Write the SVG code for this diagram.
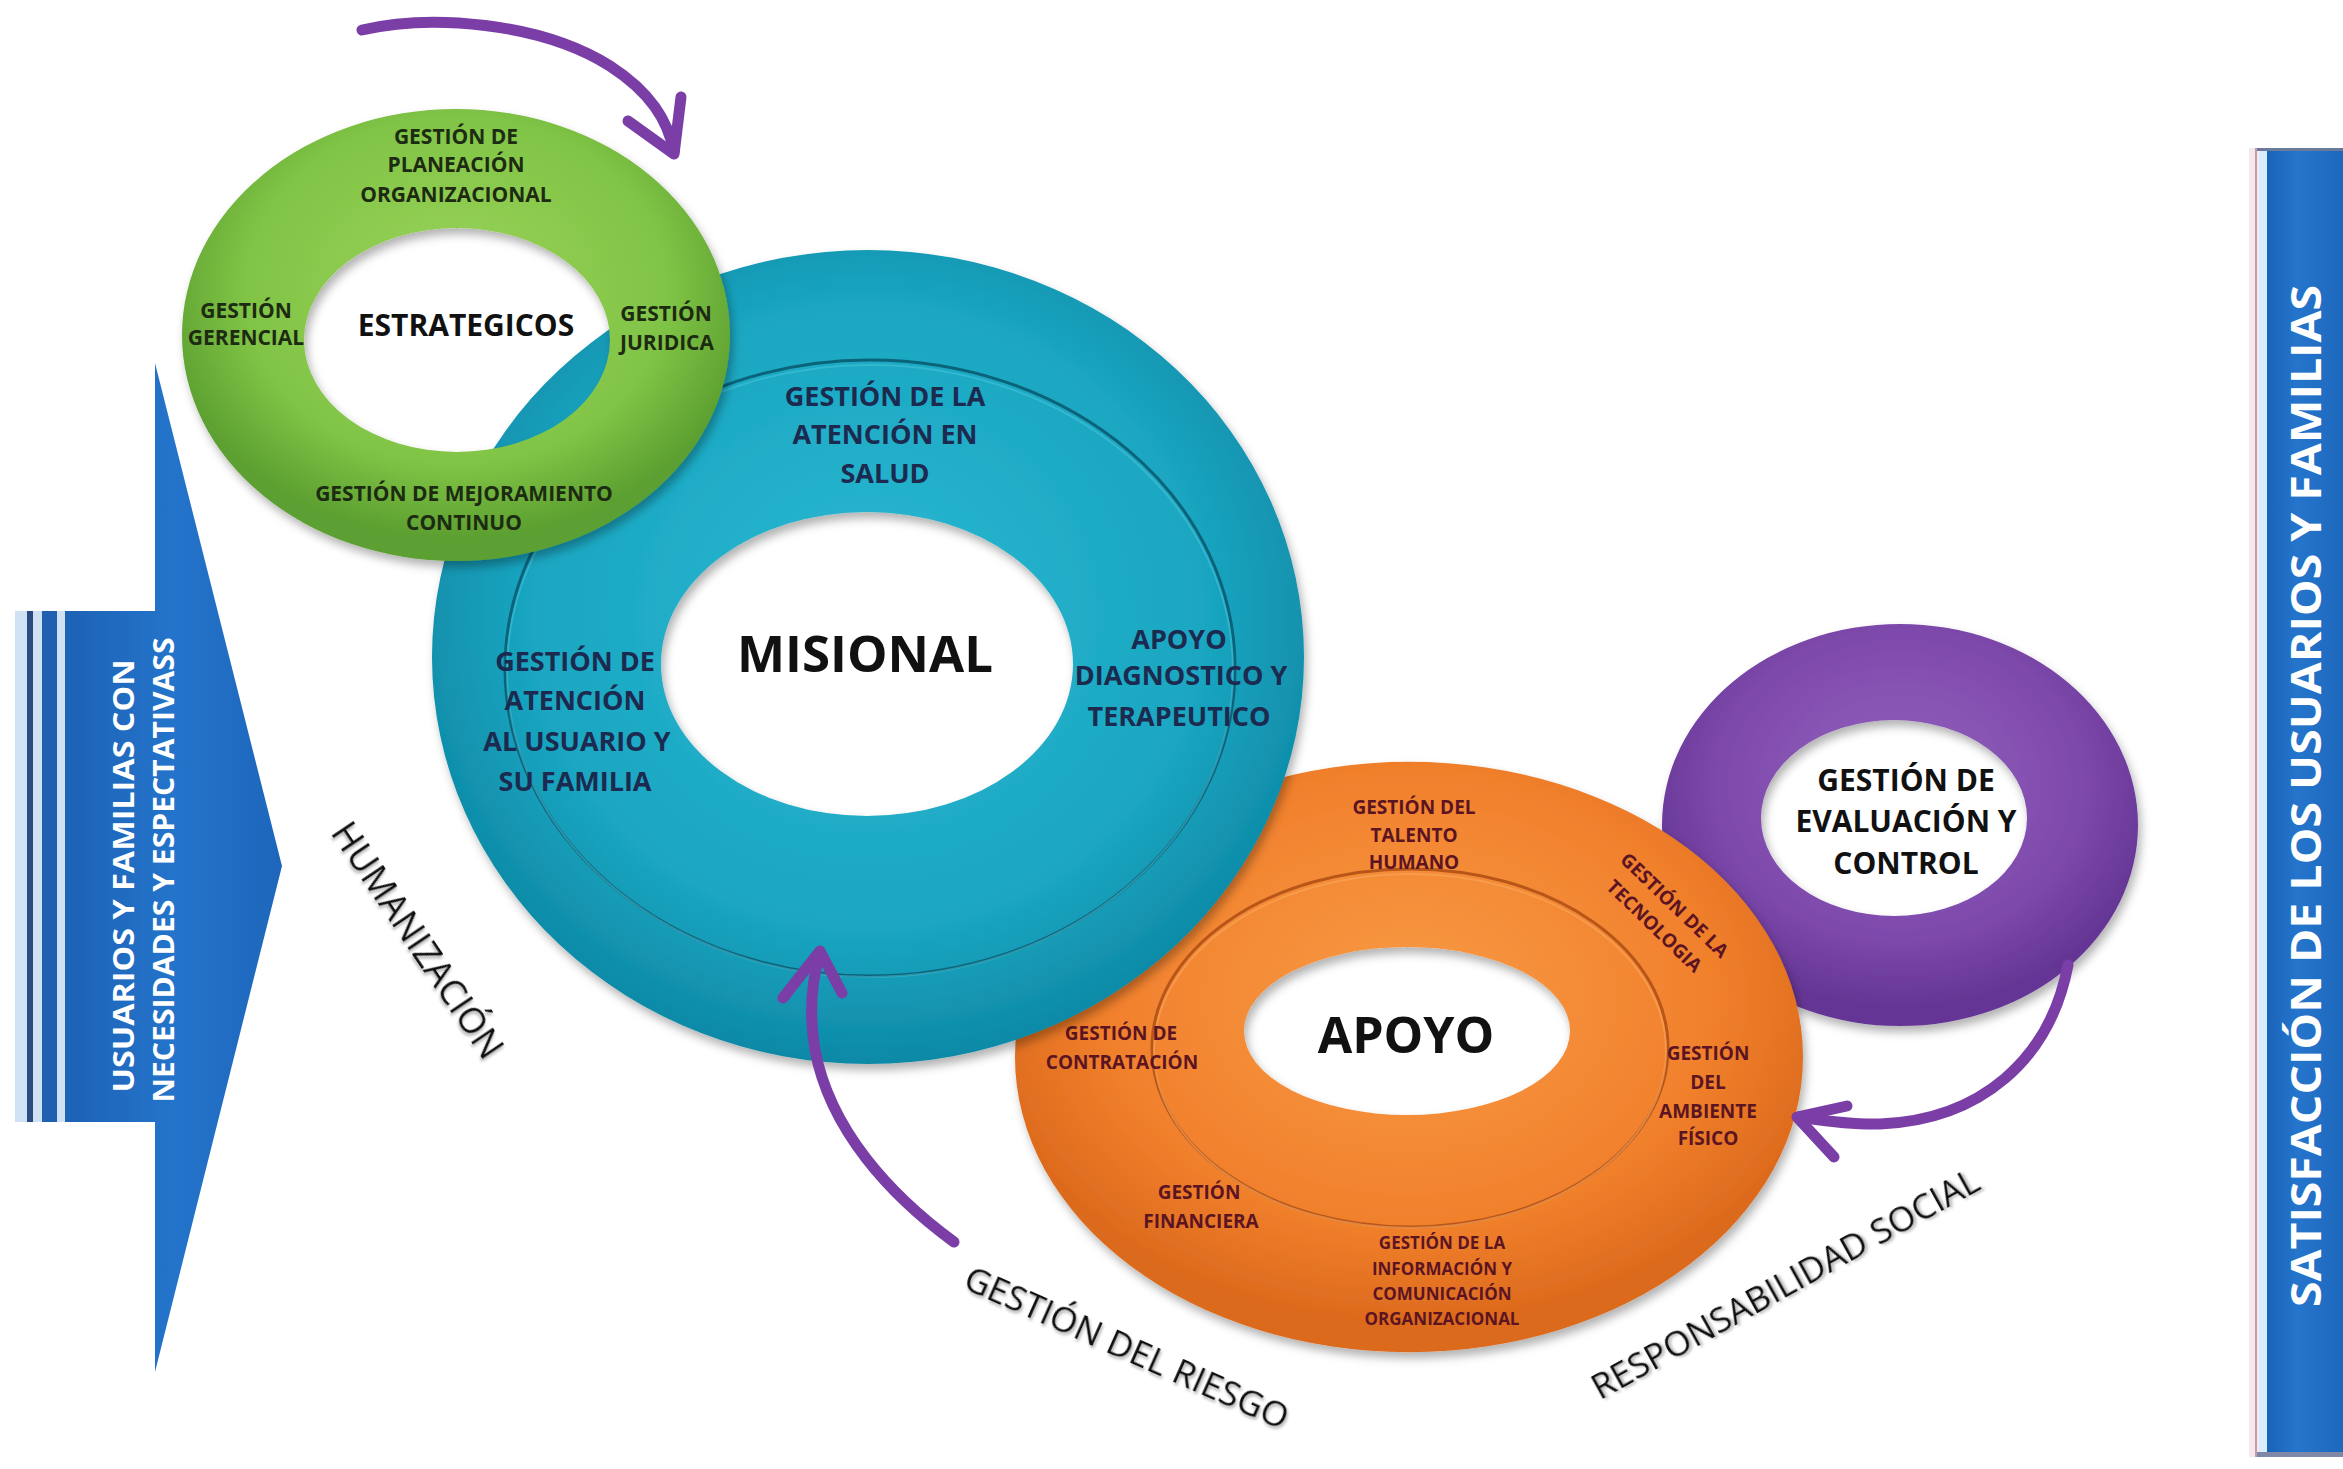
<svg xmlns="http://www.w3.org/2000/svg" width="2343" height="1469" viewBox="0 0 2343 1469">
<style>
.t{font-family:"Open Sans","Liberation Sans",sans-serif;font-weight:700;text-anchor:middle}
.g{fill:#1d2b12;font-size:21px}
.tl{fill:#1c2a4f;font-size:27px}
.o{fill:#5c1422;font-size:19px}
.os{fill:#5c1422;font-size:17px}
.p{fill:#111;font-size:30px}
.w{fill:#fff}
.lbl{font-family:"Open Sans","Liberation Sans",sans-serif;font-weight:400;fill:#111;text-anchor:middle;filter:url(#ts)}
.arr{fill:none;stroke:#7a3ea6;stroke-width:11;stroke-linecap:round;stroke-linejoin:round}
.div{fill:none;stroke-width:3}
</style>
<defs>
<filter id="sh" x="-10%" y="-10%" width="125%" height="125%"><feDropShadow dx="3" dy="6" stdDeviation="5" flood-color="#000" flood-opacity="0.3"/></filter>
<filter id="ts" x="-10%" y="-30%" width="120%" height="160%"><feDropShadow dx="2" dy="2" stdDeviation="1.5" flood-color="#777" flood-opacity="0.6"/></filter>
<radialGradient id="gTeal" cx="0.5" cy="0.45" r="0.55"><stop offset="0" stop-color="#2bb8d2"/><stop offset="0.7" stop-color="#1aa6c1"/><stop offset="1" stop-color="#0e89a6"/></radialGradient>
<radialGradient id="gGreen" cx="0.5" cy="0.4" r="0.55"><stop offset="0" stop-color="#9bd35a"/><stop offset="0.7" stop-color="#80c446"/><stop offset="1" stop-color="#5c9f30"/></radialGradient>
<radialGradient id="gOrange" cx="0.5" cy="0.4" r="0.55"><stop offset="0" stop-color="#f89a45"/><stop offset="0.7" stop-color="#f1802c"/><stop offset="1" stop-color="#dc6a1d"/></radialGradient>
<radialGradient id="gPurple" cx="0.5" cy="0.4" r="0.55"><stop offset="0" stop-color="#9462bf"/><stop offset="0.7" stop-color="#7d49ab"/><stop offset="1" stop-color="#653695"/></radialGradient>
<linearGradient id="gBlue" x1="0" y1="0" x2="1" y2="0"><stop offset="0" stop-color="#1c62b5"/><stop offset="0.5" stop-color="#2474cb"/><stop offset="1" stop-color="#1d66bb"/></linearGradient>
<linearGradient id="gBar" x1="0" y1="0" x2="1" y2="0"><stop offset="0" stop-color="#1a63b8"/><stop offset="0.4" stop-color="#2575cc"/><stop offset="1" stop-color="#1d68bd"/></linearGradient>
</defs>
<rect width="2343" height="1469" fill="#fff"/>

<g id="entrada">
<rect x="15" y="611" width="50" height="511" fill="#cfe1f3"/>
<rect x="27" y="611" width="6" height="511" fill="#2a4a80"/>
<rect x="42" y="611" width="15" height="511" fill="#1f60b0"/>
<path d="M65,611 H155 V363 L282,866 L155,1372 V1122 H65 Z" fill="url(#gBlue)"/>
<text class="t w" font-size="28" transform="translate(134,876) rotate(-90)" textLength="433" lengthAdjust="spacingAndGlyphs">USUARIOS Y FAMILIAS CON</text>
<text class="t w" font-size="28" transform="translate(174,870) rotate(-90)" textLength="465" lengthAdjust="spacingAndGlyphs">NECESIDADES Y ESPECTATIVASS</text>
</g>

<g id="satisfaccion">
<rect x="2249" y="148" width="94" height="1309" fill="#f3e9ee"/>
<rect x="2255" y="148" width="2" height="1309" fill="#c89aac"/>
<rect x="2259" y="148" width="84" height="1309" fill="#d8ecfa"/>
<rect x="2267" y="148" width="76" height="1309" fill="url(#gBar)"/>
<rect x="2257" y="148" width="86" height="3" fill="#6a7a9a"/>
<rect x="2257" y="1452" width="86" height="5" fill="#8088a8"/>
<text class="t w" font-size="42" transform="translate(2321,796) rotate(-90)" textLength="1022" lengthAdjust="spacingAndGlyphs">SATISFACCIÓN DE LOS USUARIOS Y FAMILIAS</text>
</g>

<g id="evaluacion" filter="url(#sh)">
<path d="M1662,825 a238,201 0 1,0 476,0 a238,201 0 1,0 -476,0 Z M1761,818 a133,98 0 1,0 266,0 a133,98 0 1,0 -266,0 Z" fill="url(#gPurple)" fill-rule="evenodd"/>
</g>
<g id="evaluacion-texto">
<text class="t p" x="1906" y="791">GESTIÓN DE</text>
<text class="t p" x="1906" y="832">EVALUACIÓN Y</text>
<text class="t p" x="1906" y="874">CONTROL</text>
</g>

<g id="apoyo">
<path filter="url(#sh)" d="M1015,1057 a394,295 0 1,0 788,0 a394,295 0 1,0 -788,0 Z M1244,1031 a163,84 0 1,0 326,0 a163,84 0 1,0 -326,0 Z" fill="url(#gOrange)" fill-rule="evenodd"/>
<ellipse cx="1410" cy="1048" rx="258" ry="179" class="div" stroke="#b8561a"/>
<ellipse cx="1410" cy="1051" rx="256" ry="177" fill="none" stroke="#f9a65c" stroke-width="2" opacity="0.6"/>
<text class="t" font-size="50" fill="#111" x="1406" y="1053">APOYO</text>
<text class="t o" x="1414" y="814">GESTIÓN DEL</text>
<text class="t o" x="1414" y="842">TALENTO</text>
<text class="t o" x="1414" y="869">HUMANO</text>
<g transform="translate(1665,915) rotate(44)">
<text class="t o" font-size="20" x="0" y="-7">GESTIÓN DE LA</text>
<text class="t o" font-size="20" x="0" y="22">TECNOLOGIA</text>
</g>
<text class="t o" x="1121" y="1040">GESTIÓN DE</text>
<text class="t o" x="1122" y="1069">CONTRATACIÓN</text>
<text class="t o" x="1708" y="1060">GESTIÓN</text>
<text class="t o" x="1708" y="1089">DEL</text>
<text class="t o" x="1708" y="1118">AMBIENTE</text>
<text class="t o" x="1708" y="1145">FÍSICO</text>
<text class="t o" x="1199" y="1199">GESTIÓN</text>
<text class="t o" x="1201" y="1228">FINANCIERA</text>
<text class="t os" x="1442" y="1249">GESTIÓN DE LA</text>
<text class="t os" x="1442" y="1275">INFORMACIÓN Y</text>
<text class="t os" x="1442" y="1300">COMUNICACIÓN</text>
<text class="t os" x="1442" y="1325">ORGANIZACIONAL</text>
</g>

<g id="misional">
<path filter="url(#sh)" d="M432,657 a436,407 0 1,0 872,0 a436,407 0 1,0 -872,0 Z M661,664 a206,152 0 1,0 412,0 a206,152 0 1,0 -412,0 Z" fill="url(#gTeal)" fill-rule="evenodd"/>
<ellipse cx="870" cy="668" rx="365" ry="308" class="div" stroke="#0b6379"/>
<ellipse cx="870" cy="671" rx="363" ry="306" fill="none" stroke="#4cc6dc" stroke-width="2" opacity="0.5"/>
<text class="t" font-size="51" fill="#111" x="865" y="672">MISIONAL</text>
<text class="t tl" x="885" y="406">GESTIÓN DE LA</text>
<text class="t tl" x="885" y="444">ATENCIÓN EN</text>
<text class="t tl" x="885" y="483">SALUD</text>
<text class="t tl" x="1179" y="649">APOYO</text>
<text class="t tl" x="1181" y="685">DIAGNOSTICO Y</text>
<text class="t tl" x="1179" y="726">TERAPEUTICO</text>
<text class="t tl" x="575" y="671">GESTIÓN DE</text>
<text class="t tl" x="575" y="710">ATENCIÓN</text>
<text class="t tl" x="577" y="751">AL USUARIO Y</text>
<text class="t tl" x="575" y="791">SU FAMILIA</text>
</g>

<g id="estrategicos">
<path filter="url(#sh)" d="M182,335 a274,226 0 1,0 548,0 a274,226 0 1,0 -548,0 Z M304,340 a153,112 0 1,0 306,0 a153,112 0 1,0 -306,0 Z" fill="url(#gGreen)" fill-rule="evenodd"/>
<text class="t" font-size="30" fill="#111" x="466" y="336">ESTRATEGICOS</text>
<text class="t g" x="456" y="144">GESTIÓN DE</text>
<text class="t g" x="456" y="172">PLANEACIÓN</text>
<text class="t g" x="456" y="202">ORGANIZACIONAL</text>
<text class="t g" x="246" y="318">GESTIÓN</text>
<text class="t g" x="246" y="345">GERENCIAL</text>
<text class="t g" x="666" y="321">GESTIÓN</text>
<text class="t g" x="667" y="350">JURIDICA</text>
<text class="t g" x="464" y="501">GESTIÓN DE MEJORAMIENTO</text>
<text class="t g" x="464" y="530">CONTINUO</text>
</g>

<g id="connectors">
<path class="arr" d="M362,30 C430,14 540,22 610,66 C650,92 668,120 674,152"/>
<path class="arr" d="M628,121 L674,154 L681,97"/>
<path class="arr" d="M954,1242 C890,1195 830,1130 815,1050 C808,1010 812,980 820,953"/>
<path class="arr" d="M783,998 L820,951 L842,993"/>
<path class="arr" d="M2068,965 C2050,1060 1980,1120 1880,1124 C1850,1125 1820,1120 1799,1117"/>
<path class="arr" d="M1847,1106 L1797,1117 L1834,1157"/>
</g>

<g id="ejes">
<text class="lbl" font-size="36" transform="translate(418,940) rotate(56)" y="13">HUMANIZACIÓN</text>
<text class="lbl" font-size="35" transform="translate(1127,1347) rotate(24)" y="13">GESTIÓN DEL RIESGO</text>
<text class="lbl" font-size="35" transform="translate(1785,1283) rotate(-29)" y="13">RESPONSABILIDAD SOCIAL</text>
</g>
</svg>
